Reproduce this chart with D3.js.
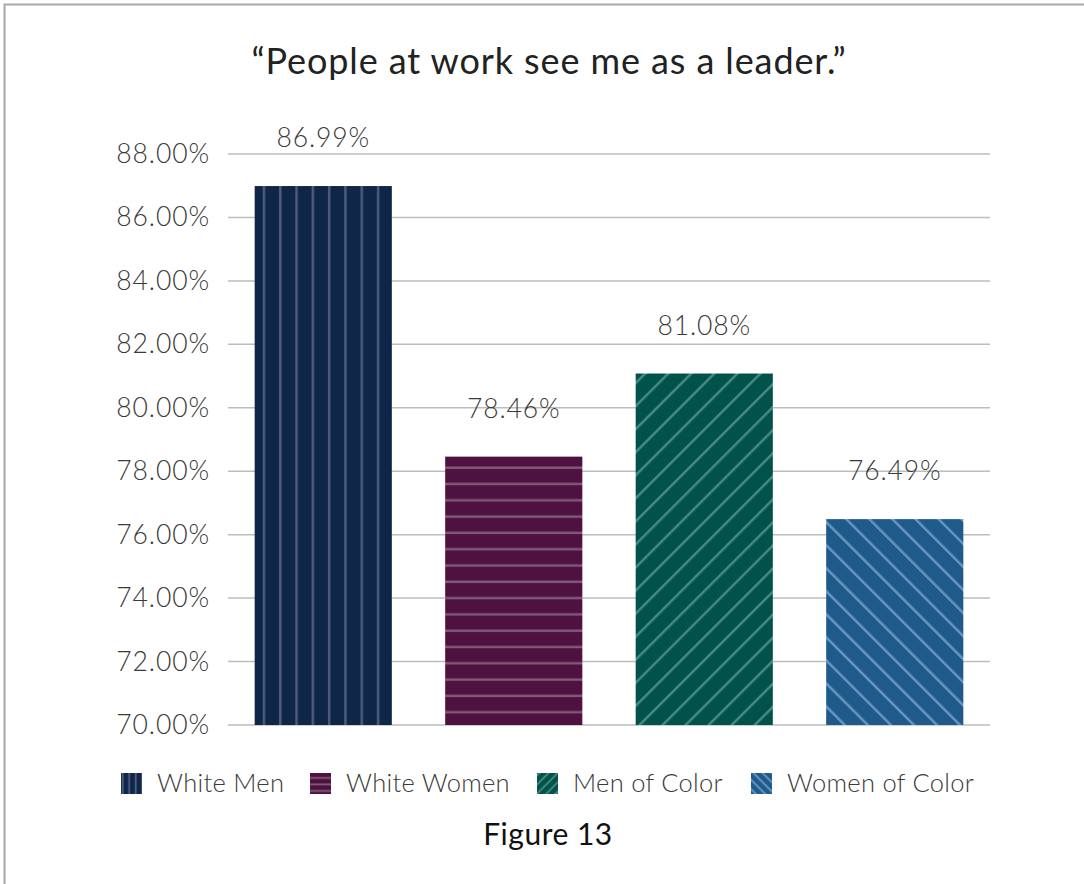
<!DOCTYPE html>
<html>
<head>
<meta charset="utf-8">
<script src="https://cdn.jsdelivr.net/npm/d3@7"></script>
<style>
  html, body { margin: 0; padding: 0; background: #fff; }
  svg { display: block; }
</style>
</head>
<body>
<svg id="chart" width="1084" height="884"></svg>
<script>
const categories = ["White Men", "White Women", "Men of Color", "Women of Color"];
const values = [86.99, 78.46, 81.08, 76.49];
const tickValues = [70, 72, 74, 76, 78, 80, 82, 84, 86, 88];
const baseColors = ["#0f2649", "#4f1240", "#00524a", "#1e5b8a"];
const stripeColors = ["#4f5c7f", "#7f5a77", "#4a8a84", "#6b96c2"];
const patternKinds = ["vertical", "horizontal", "diagHigh", "diagLow"];
const titleText = "\u201CPeople at work see me as a leader.\u201D";
const captionText = "Figure 13";

const svg = d3.select("#chart");
const FONT = "Lato, 'Open Sans', sans-serif";

const margin = { left: 228, right: 94, top: 154, bottom: 159 };
const W = 1084, H = 884;

const x = d3.scaleBand().domain(categories).range([margin.left, W - margin.right]).paddingInner(0.28).paddingOuter(0.14);
const y = d3.scaleLinear().domain([70, 88]).range([H - margin.bottom, margin.top]);

// border
svg.append("rect").attr("x", 4.5).attr("y", 4.5).attr("width", 1100).attr("height", 900)
  .attr("fill", "none").attr("stroke", "#a8a8a8").attr("stroke-width", 2);

// patterns
const defs = svg.append("defs");
function makePattern(id, i, sp, sw) {
  const k = patternKinds[i];
  let p = defs.append("pattern").attr("id", id).attr("patternUnits", "userSpaceOnUse")
    .attr("width", sp).attr("height", sp);
  if (k === "diagHigh" || k === "diagLow") {
    p.attr("patternTransform", "rotate(" + (k === "diagHigh" ? 45 : -45) + ")");
  }
  p.append("rect").attr("width", sp).attr("height", sp).attr("fill", baseColors[i]);
  if (k === "horizontal") {
    p.append("rect").attr("x", 0).attr("y", sp * 0.62).attr("width", sp).attr("height", sw).attr("fill", stripeColors[i]);
  } else {
    p.append("rect").attr("x", sp * 0.12).attr("y", 0).attr("width", sw).attr("height", sp).attr("fill", stripeColors[i]);
  }
}
patternKinds.forEach((k, i) => {
  makePattern("pat" + i, i, 16.3, 2.4);
  makePattern("lpat" + i, i, 6.5, 1.8);
});

// gridlines
svg.append("g").selectAll("line").data(tickValues).join("line")
  .attr("x1", margin.left).attr("x2", W - margin.right)
  .attr("y1", d => y(d)).attr("y2", d => y(d))
  .attr("stroke", "#bdbdbd").attr("stroke-width", 1.5);

// y axis labels
const yAxis = d3.axisLeft(y).tickValues(tickValues).tickFormat(d => d3.format(".2f")(d) + "%").tickSize(0).tickPadding(18);
const ya = svg.append("g").attr("transform", `translate(${margin.left},0)`).call(yAxis);
ya.select(".domain").remove();
ya.selectAll("text").attr("font-family", FONT).attr("font-weight", 300).attr("font-size", 26.5)
  .attr("letter-spacing", 0.9).attr("fill", "#3a3a3a");

// bars
svg.append("g").selectAll("rect").data(categories).join("rect")
  .attr("x", d => x(d)).attr("width", x.bandwidth())
  .attr("y", (d, i) => y(values[i])).attr("height", (d, i) => y(70) - y(values[i]))
  .attr("fill", (d, i) => `url(#pat${i})`);

// value labels
svg.append("g").selectAll("text").data(categories).join("text")
  .attr("x", d => x(d) + x.bandwidth() / 2)
  .attr("y", (d, i) => y(values[i]) - 39)
  .attr("text-anchor", "middle")
  .attr("font-family", FONT).attr("font-weight", 300).attr("font-size", 26.5)
  .attr("letter-spacing", 0.9).attr("fill", "#3a3a3a")
  .text((d, i) => d3.format(".2f")(values[i]) + "%");

// title
svg.append("text").attr("x", 549).attr("y", 74).attr("text-anchor", "middle")
  .attr("font-family", FONT).attr("font-weight", 400).attr("font-size", 36)
  .attr("letter-spacing", 0.9).attr("fill", "#222")
  .text(titleText);

// legend
const legendX = [121, 310, 537, 751];
const lg = svg.append("g").selectAll("g").data(categories).join("g")
  .attr("transform", (d, i) => `translate(${legendX[i]},773)`);
lg.append("rect").attr("width", 21).attr("height", 21).attr("fill", (d, i) => `url(#lpat${i})`);
lg.append("text").attr("x", 36).attr("y", 19)
  .attr("font-family", FONT).attr("font-weight", 300).attr("font-size", 25.5)
  .attr("letter-spacing", 0.3).attr("fill", "#3a3a3a")
  .text(d => d);

// caption
svg.append("text").attr("x", 548).attr("y", 845).attr("text-anchor", "middle")
  .attr("font-family", FONT).attr("font-weight", 400).attr("font-size", 30)
  .attr("letter-spacing", 0.5).attr("fill", "#111")
  .text(captionText);
</script>
</body>
</html>
